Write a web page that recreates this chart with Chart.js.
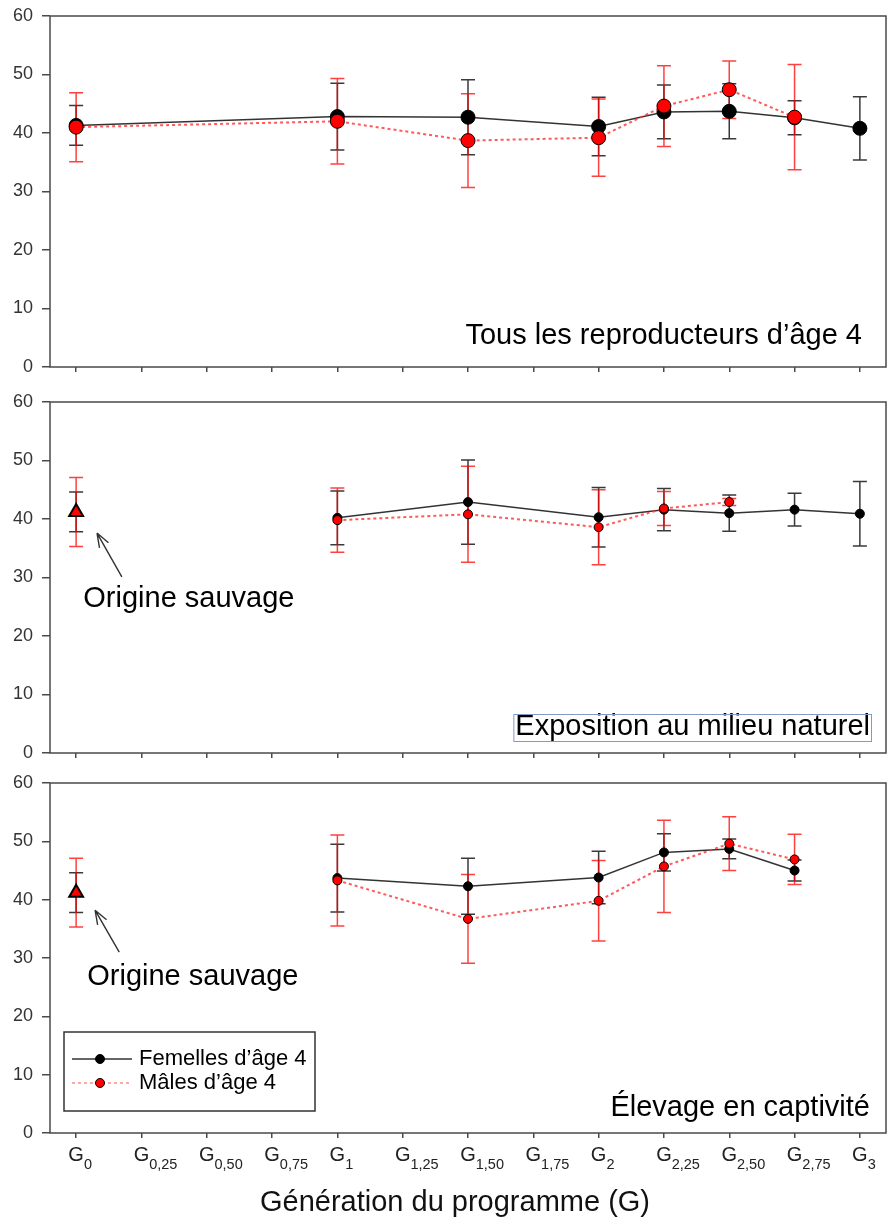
<!DOCTYPE html>
<html>
<head>
<meta charset="utf-8">
<script src="https://cdn.jsdelivr.net/npm/chart.js@4.4.1/dist/chart.umd.min.js"></script>
<style>
  html, body { margin: 0; padding: 0; background: #fff; }
  #wrap { position: relative; width: 888px; height: 1223px; }
  canvas { position: absolute; left: 0; }
</style>
</head>
<body>
<div id="wrap">
  <canvas id="panel-all" width="888" height="385" style="top:0px"></canvas>
  <canvas id="panel-nat" width="888" height="380" style="top:385px"></canvas>
  <canvas id="panel-cap" width="888" height="458" style="top:765px"></canvas>
</div>
<script>
// x categories: G with a subscript
const tickBase = 'G';
const tickSubs = ['0', '0,25', '0,50', '0,75', '1', '1,25', '1,50', '1,75', '2', '2,25', '2,50', '2,75', '3'];
const yTicks = [0, 10, 20, 30, 40, 50, 60];

// panel 1 - tous les reproducteurs
const femAll    = [41.3, null, null, null, 42.8, null, 42.7, null, 41.1, 43.6, 43.7, 42.6, 40.8];
const femAllSd  = [3.4, null, null, null, 5.7, null, 6.4, null, 5.0, 4.6, 4.7, 2.9, 5.4];
const maleAll   = [41.0, null, null, null, 42.0, null, 38.7, null, 39.2, 44.6, 47.4, 42.7, null];
const maleAllSd = [5.9, null, null, null, 7.3, null, 8.0, null, 6.6, 6.9, 4.9, 9.0, null];

// wild origin (G0), panels 2 and 3
const wildAge4   = [41.2];
const wildFemSd  = [3.4];
const wildMaleSd = [5.9];

// panel 2 - exposition au milieu naturel
const femNat    = [null, null, null, null, 40.2, null, 42.9, null, 40.3, 41.6, 41.0, 41.6, 40.9];
const femNatSd  = [null, null, null, null, 4.6, null, 7.2, null, 5.1, 3.6, 3.1, 2.8, 5.5];
const maleNat   = [null, null, null, null, 39.8, null, 40.8, null, 38.6, 41.8, 42.9, null, null];
const maleNatSd = [null, null, null, null, 5.5, null, 8.2, null, 6.4, 2.9, 0.6, null, null];

// panel 3 - elevage en captivite
const femCap    = [null, null, null, null, 43.7, null, 42.3, null, 43.8, 48.1, 48.7, 45.0, null];
const femCapSd  = [null, null, null, null, 5.8, null, 4.8, null, 4.5, 3.2, 1.7, 1.8, null];
const maleCap   = [null, null, null, null, 43.3, null, 36.7, null, 39.8, 45.7, 49.6, 46.9, null];
const maleCapSd = [null, null, null, null, 7.8, null, 7.6, null, 6.9, 7.9, 4.6, 4.3, null];

const femLabel = 'Femelles d\u2019âge 4';
const maleLabel = 'Mâles d\u2019âge 4';

const blackLine = '#333333';
const redLine = 'rgba(255, 60, 60, 0.85)';
const blackBar = '#3a3a3a';
const redBar = 'rgba(255, 0, 0, 0.75)';
const frameColor = '#4a4a4a';
const fontFamily = '"Liberation Sans", Arial, sans-serif';

Chart.defaults.font.family = fontFamily;

const toPoints = (values) => values
    .map((v, i) => v == null ? null : {x: i, y: v})
    .filter(p => p !== null);


// box around the plot area
const framePlugin = {
    id: 'frame',
    beforeDatasetsDraw(chart) {
        const {ctx, chartArea: a} = chart;
        ctx.save();
        ctx.strokeStyle = frameColor;
        ctx.lineWidth = 1.5;
        ctx.strokeRect(a.left, a.top, a.right - a.left, a.bottom - a.top);
        ctx.restore();
    }
};

// vertical error bars with caps
const errorBarsPlugin = {
    id: 'errorBars',
    beforeDatasetsDraw(chart) {
        const {ctx, scales: {x, y}} = chart;
        chart.data.datasets.forEach(ds => {
            (ds.errorBars || []).forEach(bar => {
                ctx.save();
                ctx.strokeStyle = bar.color;
                ctx.lineWidth = 1.5;
                ds.data.forEach(p => {
                    const e = bar.sd[p.x];
                    if (e == null) return;
                    const px = x.getPixelForValue(p.x);
                    const top = y.getPixelForValue(p.y + e);
                    const bot = y.getPixelForValue(p.y - e);
                    ctx.beginPath();
                    ctx.moveTo(px, top); ctx.lineTo(px, bot);
                    ctx.moveTo(px - 7, top); ctx.lineTo(px + 7, top);
                    ctx.moveTo(px - 7, bot); ctx.lineTo(px + 7, bot);
                    ctx.stroke();
                });
                ctx.restore();
            });
        });
    }
};

// panel title + "Origine sauvage" arrow
const notesPlugin = {
    id: 'notes',
    afterDraw(chart, args, opts) {
        const {ctx, chartArea: a, scales: {x, y}} = chart;
        ctx.save();
        ctx.fillStyle = '#000';
        ctx.font = '29px ' + fontFamily;
        ctx.textAlign = 'right';
        ctx.textBaseline = 'alphabetic';
        const tx = a.right - opts.label.right;
        const ty = a.bottom - opts.label.bottom;
        ctx.fillText(opts.label.text, tx, ty);
        if (opts.label.box) {
            const w = ctx.measureText(opts.label.text).width;
            ctx.strokeStyle = '#7f9cc4';
            ctx.lineWidth = 1;
            ctx.strokeRect(tx - w - 1.5, ty - 20.5, w + 3, 27);
        }
        if (opts.wild) {
            const w = opts.wild;
            ctx.textAlign = 'left';
            ctx.fillText(w.text, x.getPixelForValue(w.at[0]), y.getPixelForValue(w.at[1]));
            const x1 = x.getPixelForValue(w.tail[0]), y1 = y.getPixelForValue(w.tail[1]);
            const x2 = x.getPixelForValue(w.tip[0]), y2 = y.getPixelForValue(w.tip[1]);
            const ang = Math.atan2(y2 - y1, x2 - x1);
            ctx.strokeStyle = '#333';
            ctx.lineWidth = 1.4;
            ctx.beginPath();
            ctx.moveTo(x1, y1); ctx.lineTo(x2, y2);
            [-0.35, 0.35].forEach(d => {
                ctx.moveTo(x2, y2);
                ctx.lineTo(x2 - 15 * Math.cos(ang + d), y2 - 15 * Math.sin(ang + d));
            });
            ctx.stroke();
        }
        ctx.restore();
    }
};

// legend box in the bottom panel
const legendBoxPlugin = {
    id: 'legendBox',
    afterDraw(chart, args, opts) {
        if (!opts.show) return;
        const {ctx, chartArea: a} = chart;
        const left = a.left + 14, top = a.bottom - 101;
        ctx.save();
        ctx.fillStyle = '#fff';
        ctx.fillRect(left, top, 251, 79);
        ctx.strokeStyle = '#333';
        ctx.lineWidth = 1.5;
        ctx.strokeRect(left, top, 251, 79);
        [0, 1].forEach((k) => {
            const ds = chart.data.datasets[k];
            const cy = top + 27 + k * 24;
            ctx.strokeStyle = k === 0 ? blackLine : 'rgba(255, 90, 90, 0.7)';
            ctx.lineWidth = 1.5;
            ctx.setLineDash(ds.borderDash || []);
            ctx.beginPath();
            ctx.moveTo(left + 8, cy); ctx.lineTo(left + 68, cy);
            ctx.stroke();
            ctx.setLineDash([]);
            ctx.beginPath();
            ctx.arc(left + 36, cy, 4.5, 0, Math.PI * 2);
            ctx.fillStyle = ds.pointBackgroundColor;
            ctx.fill();
            ctx.strokeStyle = '#000';
            ctx.lineWidth = 1;
            ctx.stroke();
            ctx.fillStyle = '#000';
            ctx.font = '22px ' + fontFamily;
            ctx.textBaseline = 'middle';
            ctx.fillText(ds.label, left + 75, cy);
        });
        ctx.restore();
    }
};

// G with subscript tick labels + axis title
const subTicksPlugin = {
    id: 'subTicks',
    afterDraw(chart, args, opts) {
        if (!opts.show) return;
        const {ctx, chartArea: a, scales: {x}} = chart;
        ctx.save();
        ctx.fillStyle = '#222';
        ctx.textBaseline = 'alphabetic';
        const base = a.bottom + 28;
        tickSubs.forEach((s, i) => {
            const px = x.getPixelForValue(i);
            ctx.font = '20px ' + fontFamily;
            const wG = ctx.measureText(tickBase).width;
            ctx.fillText(tickBase, px - wG / 2, base);
            ctx.font = '14.5px ' + fontFamily;
            ctx.fillText(s, px + wG / 2, base + 8);
        });
        ctx.font = '29px ' + fontFamily;
        ctx.textAlign = 'center';
        ctx.fillStyle = '#111';
        ctx.fillText(opts.title, 455, a.bottom + 78);
        ctx.restore();
    }
};


const makeChart = (canvasId, fem, femSd, male, maleSd, cfg) => {
    const datasets = [{
        label: femLabel,
        data: toPoints(fem),
        borderColor: blackLine,
        borderWidth: 1.5,
        pointBackgroundColor: '#000',
        pointBorderColor: '#000',
        pointBorderWidth: 1,
        pointRadius: cfg.radius,
        order: 2,
        errorBars: [{sd: femSd, color: blackBar}]
    },
    {
        label: maleLabel,
        data: toPoints(male),
        borderColor: redLine,
        borderWidth: 2,
        borderDash: [3, 3],
        pointBackgroundColor: '#ff0000',
        pointBorderColor: '#000',
        pointBorderWidth: 1,
        pointRadius: cfg.radius,
        order: 1,
        errorBars: [{sd: maleSd, color: redBar}]
    }];

    if (cfg.wild) {
        datasets.push({
            label: 'Origine sauvage',
            data: toPoints(wildAge4),
            showLine: false,
            pointStyle: 'triangle',
            pointRadius: 8,
            pointBackgroundColor: '#ff0000',
            pointBorderColor: '#000',
            pointBorderWidth: 2,
            order: 0,
            errorBars: [{sd: wildFemSd, color: blackBar}, {sd: wildMaleSd, color: redBar}]
        });
    }

    return new Chart(document.getElementById(canvasId), {
        type: 'line',
        data: {datasets: datasets},
        options: {
            responsive: false,
            animation: false,
            devicePixelRatio: 1,
            layout: {autoPadding: false, padding: {top: cfg.padTop, right: 2, left: 0, bottom: 0}},
            scales: {
                x: {
                    type: 'linear',
                    min: -0.4,
                    max: 12.4,
                    afterBuildTicks: (scale) => {
                        scale.ticks = tickSubs.map((s, i) => ({value: i}));
                    },
                    afterFit: (scale) => {
                        scale.height = cfg.xHeight;
                        scale.paddingLeft = 0;
                        scale.paddingRight = 0;
                    },
                    ticks: {display: false},
                    border: {display: false},
                    grid: {drawOnChartArea: false, drawTicks: true, tickLength: 5, color: frameColor, lineWidth: 1.5}
                },
                y: {
                    min: yTicks[0],
                    max: yTicks[yTicks.length - 1],
                    afterBuildTicks: (scale) => {
                        scale.ticks = yTicks.map(v => ({value: v}));
                    },
                    afterFit: (scale) => {
                        scale.width = 50;
                        scale.paddingTop = 0;
                        scale.paddingBottom = 0;
                    },
                    ticks: {color: '#333', padding: 9, font: {size: 18}},
                    border: {display: false},
                    grid: {drawOnChartArea: false, drawTicks: true, tickLength: 8, color: frameColor, lineWidth: 1.5}
                }
            },
            plugins: {
                legend: {display: false},
                tooltip: {enabled: false},
                notes: cfg.notes,
                legendBox: {show: !!cfg.legend},
                subTicks: {show: !!cfg.axisTitle, title: cfg.axisTitle}
            }
        },
        plugins: [framePlugin, errorBarsPlugin, notesPlugin, legendBoxPlugin, subTicksPlugin]
    });
};


var allChart = makeChart('panel-all', femAll, femAllSd, maleAll, maleAllSd, {
    radius: 7, padTop: 16, xHeight: 18,
    notes: {label: {text: 'Tous les reproducteurs d\u2019âge 4', right: 24, bottom: 23}}
});

var natChart = makeChart('panel-nat', femNat, femNatSd, maleNat, maleNatSd, {
    radius: 4.5, padTop: 17, xHeight: 12, wild: true,
    notes: {
        label: {text: 'Exposition au milieu naturel', right: 16, bottom: 18, box: true},
        wild: {text: 'Origine sauvage', at: [0.11, 25.0], tip: [0.32, 37.6], tail: [0.70, 30.1]}
    }
});

var capChart = makeChart('panel-cap', femCap, femCapSd, maleCap, maleCapSd, {
    radius: 4.5, padTop: 18, xHeight: 90, wild: true, legend: true,
    axisTitle: 'Génération du programme (G)',
    notes: {
        label: {text: 'Élevage en captivité', right: 16, bottom: 17},
        wild: {text: 'Origine sauvage', at: [0.17, 25.4], tip: [0.29, 38.2], tail: [0.66, 31.0]}
    }
});
</script>
</body>
</html>
